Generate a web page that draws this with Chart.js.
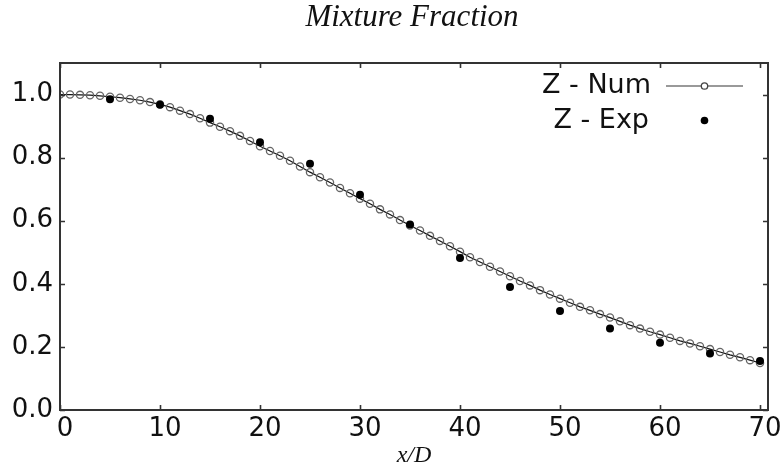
<!DOCTYPE html>
<html>
<head>
<meta charset="utf-8">
<script src="https://cdn.jsdelivr.net/npm/chart.js@4/dist/chart.umd.min.js"></script>
<style>
  html, body { margin: 0; padding: 0; background: #fff; }
  #wrap { width: 781px; height: 468px; position: relative; }
</style>
</head>
<body>
<div id="wrap"><canvas id="chart"></canvas></div>
<script>
// numerical solution, one value per x/D = 0..70
const numX = [
  0, 1, 2, 3, 4, 5, 6, 7, 8, 9,
  10, 11, 12, 13, 14, 15, 16, 17, 18, 19,
  20, 21, 22, 23, 24, 25, 26, 27, 28, 29,
  30, 31, 32, 33, 34, 35, 36, 37, 38, 39,
  40, 41, 42, 43, 44, 45, 46, 47, 48, 49,
  50, 51, 52, 53, 54, 55, 56, 57, 58, 59,
  60, 61, 62, 63, 64, 65, 66, 67, 68, 69, 70
];
const numZ = [
  1.000, 1.000, 0.999, 0.998, 0.996, 0.993, 0.990, 0.986, 0.982, 0.976,
  0.969, 0.960, 0.949, 0.938, 0.925, 0.911, 0.898, 0.884, 0.869, 0.853,
  0.836, 0.821, 0.806, 0.790, 0.772, 0.754, 0.738, 0.721, 0.704, 0.687,
  0.670, 0.654, 0.636, 0.620, 0.602, 0.585, 0.569, 0.552, 0.536, 0.519,
  0.502, 0.484, 0.469, 0.454, 0.439, 0.424, 0.409, 0.395, 0.380, 0.366,
  0.353, 0.340, 0.327, 0.316, 0.304, 0.293, 0.281, 0.269, 0.258, 0.248,
  0.239, 0.229, 0.219, 0.211, 0.202, 0.193, 0.184, 0.175, 0.167, 0.158, 0.149
];

// experimental data
const expX = [5, 10, 15, 20, 25, 30, 35, 40, 45, 50, 55, 60, 65, 70];
const expZ = [0.985, 0.968, 0.923, 0.849, 0.781, 0.682, 0.588, 0.482, 0.390, 0.314, 0.258, 0.213, 0.179, 0.155];

const xTicks = [0, 10, 20, 30, 40, 50, 60, 70];
const yTicks = [0.0, 0.2, 0.4, 0.6, 0.8, 1.0];

const SANS = "'DejaVu Sans', sans-serif";
const SERIF = "'Liberation Serif', 'DejaVu Serif', serif";

function toPoints(xs, ys) {
  return xs.map((x, i) => ({ x, y: ys[i] }));
}

// title, frame, inward ticks and legend, matplotlib style
const framePlugin = {
  id: "frame",
  afterDraw(chart) {
    const { ctx, chartArea: a, scales } = chart;
    ctx.save();
    ctx.strokeStyle = "#333";
    ctx.lineWidth = 1.6;
    ctx.beginPath();
    for (const v of xTicks) {
      const px = Math.round(scales.x.getPixelForValue(v)) + 0.5;
      ctx.moveTo(px, a.bottom); ctx.lineTo(px, a.bottom - 5);
      ctx.moveTo(px, a.top); ctx.lineTo(px, a.top + 5);
    }
    for (const v of yTicks) {
      const py = Math.round(scales.y.getPixelForValue(v)) + 0.5;
      ctx.moveTo(a.left, py); ctx.lineTo(a.left + 5, py);
      ctx.moveTo(a.right, py); ctx.lineTo(a.right - 5, py);
    }
    ctx.stroke();
    ctx.lineWidth = 2;
    ctx.strokeRect(a.left, a.top, a.right - a.left, a.bottom - a.top);

    // title
    ctx.fillStyle = "#111";
    ctx.font = "italic 31px " + SERIF;
    ctx.textAlign = "center";
    ctx.textBaseline = "alphabetic";
    ctx.fillText("Mixture Fraction", 412, 26);

    // legend
    ctx.font = "27px " + SANS;
    ctx.textAlign = "right";
    ctx.textBaseline = "middle";
    ctx.fillText("Z - Num", 651, 86);
    ctx.fillText("Z - Exp", 649, 121);
    ctx.strokeStyle = "#777";
    ctx.lineWidth = 1.3;
    ctx.beginPath();
    ctx.moveTo(666, 86); ctx.lineTo(743, 86);
    ctx.stroke();
    ctx.beginPath();
    ctx.arc(704.5, 86, 3.2, 0, Math.PI * 2);
    ctx.fillStyle = "#fff";
    ctx.fill();
    ctx.strokeStyle = "#444";
    ctx.stroke();
    ctx.beginPath();
    ctx.arc(704.5, 120.5, 3.8, 0, Math.PI * 2);
    ctx.fillStyle = "#000";
    ctx.fill();
    ctx.restore();
  }
};

new Chart(document.getElementById("chart"), {
  type: "scatter",
  data: {
    datasets: [
      {
        label: "Z - Exp",
        data: toPoints(expX, expZ),
        showLine: false,
        pointRadius: 4,
        pointBackgroundColor: "#000",
        pointBorderColor: "#000",
        pointBorderWidth: 0,
        order: 0
      },
      {
        label: "Z - Num",
        data: toPoints(numX, numZ),
        showLine: true,
        borderColor: "#111",
        borderWidth: 1.2,
        pointRadius: 3.6,
        pointBackgroundColor: "rgba(255,255,255,0)",
        pointBorderColor: "#666",
        pointBorderWidth: 1.3,
        order: 1
      }
    ]
  },
  options: {
    responsive: true,
    maintainAspectRatio: false,
    animation: false,
    layout: { padding: { top: 63, right: 13, left: 0, bottom: 0 } },
    plugins: {
      legend: { display: false },
      tooltip: { enabled: false },
      title: { display: false }
    },
    scales: {
      x: {
        type: "linear",
        min: 0,
        max: 70.8,
        grid: { display: false, drawTicks: false },
        border: { display: false },
        afterBuildTicks: (s) => { s.ticks = xTicks.map((v) => ({ value: v })); },
        afterFit: (s) => { s.height = 58; },
        ticks: {
          font: { family: SANS, size: 26 },
          color: "#111",
          padding: 4,
          labelOffset: 5,
          maxRotation: 0,
          callback: (v) => String(v)
        },
        title: {
          display: true,
          text: "x/D",
          font: { family: SERIF, size: 24, style: "italic" },
          color: "#111",
          padding: { top: 0, bottom: -2 }
        }
      },
      y: {
        type: "linear",
        min: 0,
        max: 1.1,
        grid: { display: false, drawTicks: false },
        border: { display: false },
        afterBuildTicks: (s) => { s.ticks = yTicks.map((v) => ({ value: v })); },
        afterFit: (s) => { s.width = 60; },
        ticks: {
          font: { family: SANS, size: 26 },
          color: "#111",
          padding: 7,
          callback: (v) => Number(v).toFixed(1)
        }
      }
    }
  },
  plugins: [framePlugin]
});
</script>
</body>
</html>
